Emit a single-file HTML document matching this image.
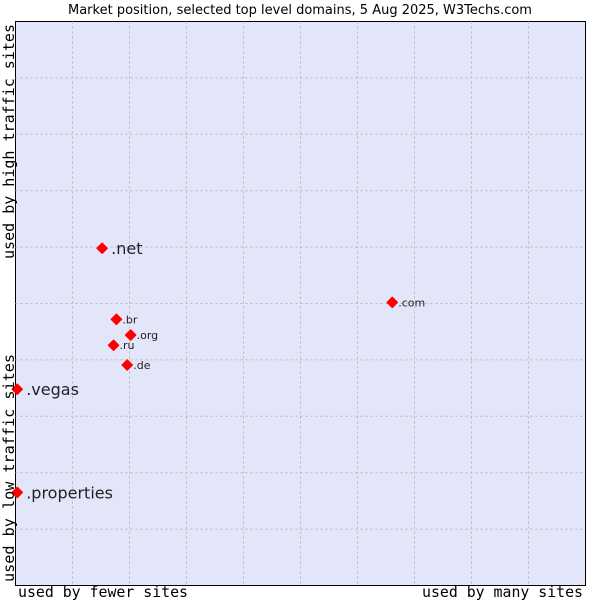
<!DOCTYPE html>
<html><head><meta charset="utf-8"><style>
body{margin:0;background:#fff;width:600px;height:600px;overflow:hidden}
svg{display:block}
</style></head><body>
<svg width="600" height="600" font-family="'DejaVu Sans', sans-serif">
<text x="300" y="14" text-anchor="middle" font-size="13" fill="#000">Market position, selected top level domains, 5 Aug 2025, W3Techs.com</text>
<rect x="15.5" y="21.5" width="570" height="564" fill="#e3e5f9" stroke="#000" stroke-width="1"/>
<g id="grid"></g>
<g id="pts"></g>
<text x="18" y="597" font-family="'DejaVu Sans Mono', monospace" font-size="15" textLength="170" lengthAdjust="spacingAndGlyphs">used by fewer sites</text>
<text x="422" y="597" font-family="'DejaVu Sans Mono', monospace" font-size="15" textLength="161" lengthAdjust="spacingAndGlyphs">used by many sites</text>
<text transform="translate(14,582) rotate(-90)" font-family="'DejaVu Sans Mono', monospace" font-size="15" textLength="228" lengthAdjust="spacingAndGlyphs">used by low traffic sites</text>
<text transform="translate(14,259) rotate(-90)" font-family="'DejaVu Sans Mono', monospace" font-size="15" textLength="235" lengthAdjust="spacingAndGlyphs">used by high traffic sites</text>
</svg>
<script>
const labels=[".net",".com",".br",".org",".ru",".de",".vegas",".properties"];
const xValues=[15.2,66.1,17.7,20.2,17.2,19.6,0.3,0.3];
const yValues=[59.8,50.2,47.2,44.4,42.6,39.1,34.8,16.5];
const bigLabel=[true,false,false,false,false,false,true,true];
const L=15.5,T=21.5,W=570,H=564;
const sx=v=>L+v/100*W, sy=v=>T+H-v/100*H;
const ns="http://www.w3.org/2000/svg";
const grid=document.getElementById('grid');
for(let i=1;i<10;i++){
  const v=document.createElementNS(ns,'line');
  
  
  v.setAttribute('x1',sx(i*10));v.setAttribute('x2',sx(i*10));v.setAttribute('y1',T);v.setAttribute('y2',T+H);
  v.setAttribute('stroke','#b8b8b8');v.setAttribute('stroke-dasharray','2,3');grid.appendChild(v);
  const h=document.createElementNS(ns,'line');
  
  
  h.setAttribute('y1',sy(i*10));h.setAttribute('y2',sy(i*10));h.setAttribute('x1',L);h.setAttribute('x2',L+W);
  h.setAttribute('stroke','#b8b8b8');h.setAttribute('stroke-dasharray','2,3');grid.appendChild(h);
}
const pts=document.getElementById('pts');
labels.forEach((lb,i)=>{
  const x=sx(xValues[i]),y=sy(yValues[i]);
  const d=document.createElementNS(ns,'polygon');
  
  
  d.setAttribute('points',`${x},${y-5} ${x+5},${y} ${x},${y+5} ${x-5},${y}`);
  d.setAttribute('fill','#f00');d.setAttribute('stroke','#f00');d.setAttribute('stroke-linejoin','round');d.setAttribute('stroke-width','1.5');pts.appendChild(d);
  const t=document.createElementNS(ns,'text');
  
  
  t.setAttribute('x',x+(bigLabel[i]?9:6));t.setAttribute('y',y+(bigLabel[i]?6:4));
  t.setAttribute('font-size',bigLabel[i]?'16':'11');t.setAttribute('fill','#222');
  t.textContent=lb;pts.appendChild(t);
});
</script>
</body></html>
